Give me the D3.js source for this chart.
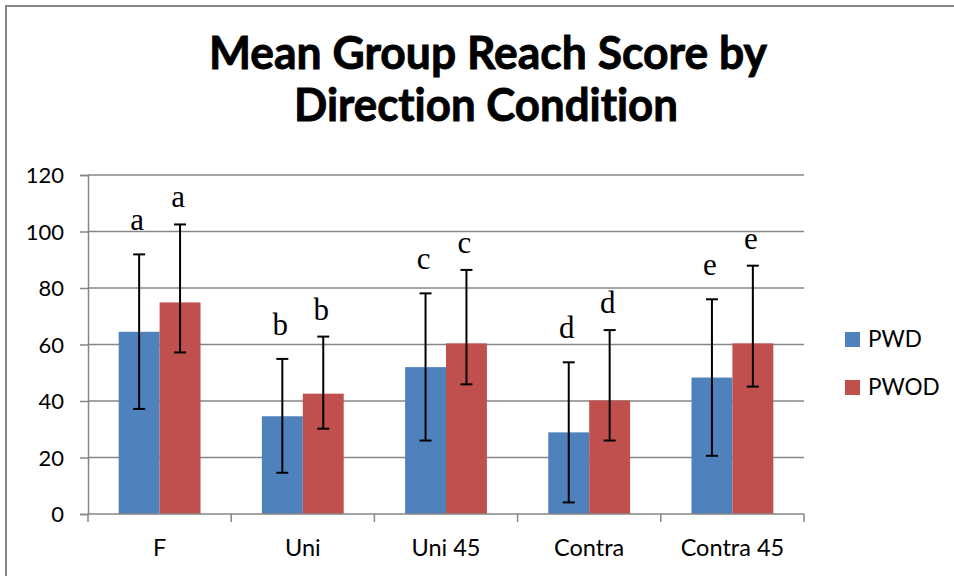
<!DOCTYPE html>
<html>
<head>
<meta charset="utf-8">
<script src="https://cdn.jsdelivr.net/npm/d3@7"></script>
<style>
  body { margin: 0; background: #fff; }
  svg { display: block; }
  text { font-variant-ligatures: none; }
</style>
</head>
<body>
<div class="chart"></div>
<script>
(function(){

  var categories = ['F', 'Uni', 'Uni 45', 'Contra', 'Contra 45'];
  var seriesNames = ['PWD', 'PWOD'];
  var pwd = [64.5, 34.6, 52.0, 28.9, 48.3];
  var pwod = [74.9, 42.6, 60.4, 40.2, 60.4];
  var pwdLow = [37.2, 14.6, 26.0, 4.1, 20.6];
  var pwdHigh = [91.9, 54.9, 78.1, 53.7, 76.0];
  var pwodLow = [57.2, 30.2, 45.9, 26.0, 45.1];
  var pwodHigh = [102.5, 62.8, 86.4, 65.1, 87.9];
  var letters = ['a', 'b', 'c', 'd', 'e'];
  var yTicks = [0, 20, 40, 60, 80, 100, 120];

  var width = 954,
    height = 576;

  var plot = { left: 88, right: 804, top: 175, bottom: 514 };
  var colors = { PWD: '#4F81BD', PWOD: '#C0504D' };
  var gray = '#868686';

  var svg = d3.select('.chart')
    .append('svg')
    .attr('width', width)
    .attr('height', height);

  // outer chart border (right and bottom run off the picture)
  svg.append('path')
    .attr('d', 'M6,' + height + 'V6H' + width)
    .attr('fill', 'none')
    .attr('stroke', gray)
    .attr('stroke-width', 2);

  // title
  var title = svg.append('g')
    .attr('font-family', 'Lato, sans-serif')
    .attr('font-weight', 'bold')
    .attr('font-size', 46)
    .attr('stroke', '#000')
    .attr('stroke-width', 0.9)
    .attr('text-anchor', 'middle');
  title.append('text')
    .attr('x', 488).attr('y', 69)
    .attr('textLength', 558).attr('lengthAdjust', 'spacingAndGlyphs')
    .text('Mean Group Reach Score by');
  title.append('text')
    .attr('x', 486).attr('y', 121)
    .attr('textLength', 384).attr('lengthAdjust', 'spacingAndGlyphs')
    .text('Direction Condition');

  var y = d3.scaleLinear()
    .domain([0, 120])
    .range([plot.bottom, plot.top]);

  var x0 = d3.scaleBand()
    .domain(categories)
    .range([plot.left, plot.right]);

  var x1 = d3.scaleBand()
    .domain(seriesNames)
    .range([0, x0.bandwidth()])
    .paddingInner(0)
    .paddingOuter(0.75);

  // gridlines
  svg.append('g')
    .selectAll('line')
    .data(yTicks.slice(1))
    .enter().append('line')
    .attr('x1', plot.left).attr('x2', plot.right)
    .attr('y1', function(d){ return y(d); })
    .attr('y2', function(d){ return y(d); })
    .attr('stroke', gray)
    .attr('stroke-width', 1.5);

  // y axis
  var yAxis = svg.append('g')
    .attr('transform', 'translate(' + plot.left + ',0)')
    .call(d3.axisLeft(y).tickValues(yTicks).tickSize(8).tickPadding(16));
  yAxis.select('.domain').attr('stroke', gray).attr('stroke-width', 1.5);
  yAxis.selectAll('.tick line').attr('stroke', gray).attr('stroke-width', 1.5);
  yAxis.selectAll('.tick text')
    .attr('font-family', 'Lato, sans-serif')
    .attr('font-size', 22)
    .attr('fill', '#000')
    .attr('dy', '0.36em');

  // bars
  var rows = categories.map(function(c, i){
    return [
      { cat: c, key: 'PWD', v: pwd[i], lo: pwdLow[i], hi: pwdHigh[i], letter: letters[i], lift: 24 },
      { cat: c, key: 'PWOD', v: pwod[i], lo: pwodLow[i], hi: pwodHigh[i], letter: letters[i], lift: 17 }
    ];
  });

  var groups = svg.append('g')
    .selectAll('g')
    .data(rows)
    .enter().append('g')
    .attr('transform', function(d){ return 'translate(' + x0(d[0].cat) + ',0)'; });

  groups.selectAll('rect')
    .data(function(d){ return d; })
    .enter().append('rect')
    .attr('x', function(d){ return x1(d.key); })
    .attr('width', x1.bandwidth())
    .attr('y', function(d){ return y(d.v); })
    .attr('height', function(d){ return y(0) - y(d.v); })
    .attr('fill', function(d){ return colors[d.key]; });

  // x axis
  var xAxis = svg.append('g')
    .attr('transform', 'translate(0,' + plot.bottom + ')');
  xAxis.append('line')
    .attr('x1', plot.left).attr('x2', plot.right)
    .attr('stroke', gray).attr('stroke-width', 1.5);
  xAxis.selectAll('line.tk')
    .data(categories.concat(['end']))
    .enter().append('line')
    .attr('class', 'tk')
    .attr('x1', function(d){ return d === 'end' ? plot.right : x0(d); })
    .attr('x2', function(d){ return d === 'end' ? plot.right : x0(d); })
    .attr('y1', 0).attr('y2', 8)
    .attr('stroke', gray).attr('stroke-width', 1.5);
  xAxis.selectAll('text')
    .data(categories)
    .enter().append('text')
    .attr('x', function(d){ return x0(d) + x0.bandwidth() / 2; })
    .attr('y', 42)
    .attr('text-anchor', 'middle')
    .attr('font-family', 'Lato, sans-serif')
    .attr('font-size', 23.5)
    .text(function(d){ return d; });

  // error bars
  var err = groups.selectAll('g.err')
    .data(function(d){ return d; })
    .enter().append('g')
    .attr('class', 'err')
    .attr('stroke', '#000')
    .attr('stroke-width', 2);
  var cx = function(d){ return x1(d.key) + x1.bandwidth() / 2; };
  err.append('line')
    .attr('x1', cx).attr('x2', cx)
    .attr('y1', function(d){ return y(d.lo); })
    .attr('y2', function(d){ return y(d.hi); });
  err.append('line')
    .attr('x1', function(d){ return cx(d) - 6; })
    .attr('x2', function(d){ return cx(d) + 6; })
    .attr('y1', function(d){ return y(d.hi); })
    .attr('y2', function(d){ return y(d.hi); });
  err.append('line')
    .attr('x1', function(d){ return cx(d) - 6; })
    .attr('x2', function(d){ return cx(d) + 6; })
    .attr('y1', function(d){ return y(d.lo); })
    .attr('y2', function(d){ return y(d.lo); });

  // significance letters
  groups.selectAll('text.letter')
    .data(function(d){ return d; })
    .enter().append('text')
    .attr('class', 'letter')
    .attr('x', function(d){ return cx(d) - 2; })
    .attr('y', function(d){ return y(d.hi) - d.lift; })
    .attr('text-anchor', 'middle')
    .attr('font-family', '"Liberation Serif", "Times New Roman", serif')
    .attr('font-size', 31)
    .text(function(d){ return d.letter; });

  // legend
  var legend = svg.append('g')
    .selectAll('g')
    .data(seriesNames)
    .enter().append('g')
    .attr('transform', function(d, i){ return 'translate(845,' + (332 + i * 48) + ')'; });
  legend.append('rect')
    .attr('width', 15).attr('height', 15)
    .attr('fill', function(d){ return colors[d]; });
  legend.append('text')
    .attr('x', 23).attr('y', 15)
    .attr('font-family', 'Lato, sans-serif')
    .attr('font-size', 22.5)
    .text(function(d){ return d; });

}());
</script>
</body>
</html>
